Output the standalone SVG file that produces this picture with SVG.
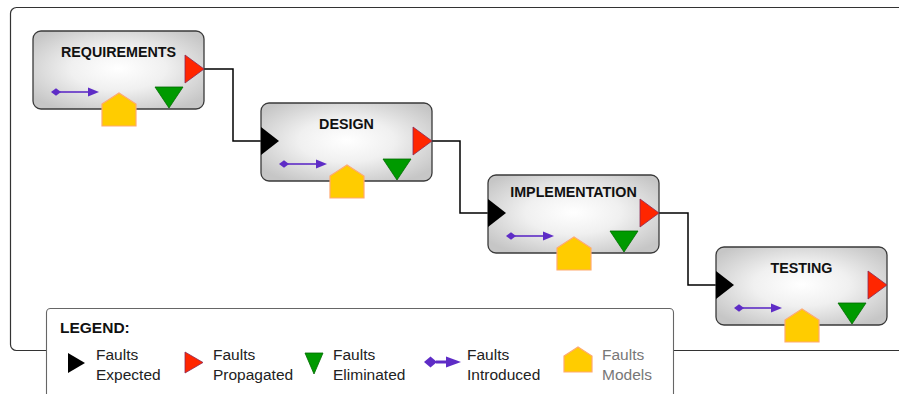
<svg xmlns="http://www.w3.org/2000/svg" width="899" height="394" viewBox="0 0 899 394">
  <defs>
    <radialGradient id="boxFill" cx="50%" cy="48%" r="62%">
      <stop offset="0" stop-color="#ffffff"/>
      <stop offset="0.45" stop-color="#f0f0f0"/>
      <stop offset="1" stop-color="#c6c6c6"/>
    </radialGradient>
    <!-- reusable symbols drawn inside each phase box -->
    <polygon id="expected" points="0,24 18,38 0,52" class="tri-exp"/>
    <polygon id="propagated" points="152,24 171,38 152,52" class="tri-prop"/>
    <polygon id="eliminated" points="122,56 150,56 136,77" class="tri-elim"/>
    <g id="introduced">
      <polygon points="18,61 23,57.2 28,61 23,64.8" class="intro"/>
      <line x1="27" y1="61" x2="57" y2="61" class="intro-line"/>
      <polygon points="55,56.5 66,61 55,65.5" class="intro"/>
    </g>
    <polygon id="model" points="69,73 86,62 103,73 103,95 69,95" class="model"/>
  </defs>
  <style>
    text { font-family: "Liberation Sans", Arial, Helvetica, sans-serif; }
    .frame { fill: none; stroke: #333333; stroke-width: 1.2; }
    .box { fill: url(#boxFill); stroke: #3a3a3a; stroke-width: 1.3; }
    .title { font-size: 14.3px; font-weight: bold; fill: #111111; text-anchor: middle; }
    .tri-exp { fill: #000000; }
    .tri-prop { fill: #ff2600; stroke: #8a2a55; stroke-width: 0.8; }
    .tri-elim { fill: #009a00; stroke: #006a00; stroke-width: 0.8; }
    .intro { fill: #5e2cc6; }
    .intro-line { stroke: #5e2cc6; stroke-width: 1.6; }
    .model { fill: #ffcc00; stroke: #ffaa70; stroke-width: 1.2; }
    .conn { fill: none; stroke: #000000; stroke-width: 1.5; }
    .legend-box { fill: #ffffff; stroke: #666666; stroke-width: 1.1; }
    .legend-title { font-size: 15.5px; font-weight: bold; fill: #111111; }
    .legend-text { font-size: 15.5px; fill: #222222; }
    .legend-text.muted { fill: #777777; }
  </style>

  <!-- outer frame -->
  <rect class="frame" x="10.5" y="7.5" width="950" height="343" rx="6"/>

  <!-- connectors between phases -->
  <g id="connectors">
    <polyline class="conn" points="204,69 233,69 233,141 261,141"/>
    <polyline class="conn" points="432,141 460,141 460,213 488,213"/>
    <polyline class="conn" points="659,213 688,213 688,285 716,285"/>
  </g>

  <g id="requirements" transform="translate(33,31)">
    <rect class="box" x="0" y="0" width="171" height="78" rx="8"/>
    <text class="title" x="85.5" y="26">REQUIREMENTS</text>
    <use href="#introduced"/>
    <use href="#eliminated"/>
    <use href="#propagated"/>
    <use href="#model"/>
  </g>

  <g id="design" transform="translate(261,103)">
    <rect class="box" x="0" y="0" width="171" height="78" rx="8"/>
    <text class="title" x="85.5" y="26">DESIGN</text>
    <use href="#expected"/>
    <use href="#introduced"/>
    <use href="#eliminated"/>
    <use href="#propagated"/>
    <use href="#model"/>
  </g>

  <g id="implementation" transform="translate(488,175)">
    <rect class="box" x="0" y="0" width="171" height="78" rx="8"/>
    <text class="title" x="85.5" y="22">IMPLEMENTATION</text>
    <use href="#expected"/>
    <use href="#introduced"/>
    <use href="#eliminated"/>
    <use href="#propagated"/>
    <use href="#model"/>
  </g>

  <g id="testing" transform="translate(716,247)">
    <rect class="box" x="0" y="0" width="171" height="78" rx="8"/>
    <text class="title" x="85.5" y="26">TESTING</text>
    <use href="#expected"/>
    <use href="#introduced"/>
    <use href="#eliminated"/>
    <use href="#propagated"/>
    <use href="#model"/>
  </g>

  <!-- legend -->
  <g id="legend">
    <rect class="legend-box" x="46.5" y="308.5" width="627" height="120" rx="4"/>
    <text class="legend-title" x="60" y="333">LEGEND:</text>

    <polygon class="tri-exp" points="68,353 85,363 68,373"/>
    <text class="legend-text" x="96" y="360">Faults</text>
    <text class="legend-text" x="96" y="380">Expected</text>

    <polygon class="tri-prop" points="185,352 203,362.5 185,373"/>
    <text class="legend-text" x="213" y="360">Faults</text>
    <text class="legend-text" x="213" y="380">Propagated</text>

    <polygon class="tri-elim" points="305,353 323,353 314,374"/>
    <text class="legend-text" x="333" y="360">Faults</text>
    <text class="legend-text" x="333" y="380">Eliminated</text>

    <polygon class="intro" points="424,362 430.5,356.5 437,362 430.5,367.5"/>
    <line class="intro-line" x1="436" y1="362" x2="448" y2="362" style="stroke-width:3"/>
    <polygon class="intro" points="446,356.5 461,362 446,367.5"/>
    <text class="legend-text" x="467" y="360">Faults</text>
    <text class="legend-text" x="467" y="380">Introduced</text>

    <polygon class="model" points="564,356 578,347 592,356 592,372 564,372"/>
    <text class="legend-text muted" x="602" y="360">Faults</text>
    <text class="legend-text muted" x="602" y="380">Models</text>
  </g>
</svg>
